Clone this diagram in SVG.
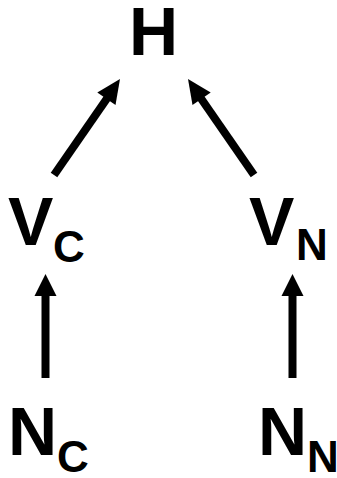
<svg xmlns="http://www.w3.org/2000/svg" width="337" height="478" viewBox="0 0 337 478">
<style>
text{font-family:"Liberation Sans",Arial,sans-serif;font-weight:bold;fill:#000}
.big{font-size:68px}
.sub{font-size:44px}
.shaft{stroke:#000;stroke-width:8;fill:none}
.head{fill:#000}
</style>
<rect width="337" height="478" fill="#fff"/>
<g id="connectors">
<line class="shaft" x1="54" y1="175" x2="108" y2="97"/>
<polygon class="head" points="120,79 115.5,105 97.3,92.6"/>
<line class="shaft" x1="254" y1="175" x2="200" y2="97"/>
<polygon class="head" points="188,79 192.5,105 210.7,92.6"/>
<line class="shaft" x1="45.5" y1="378" x2="45.5" y2="294"/>
<polygon class="head" points="45.5,274 56.5,296 34.5,296"/>
<line class="shaft" x1="292.5" y1="378" x2="292.5" y2="294"/>
<polygon class="head" points="292.5,274 303.5,296 281.5,296"/>
</g>
<g id="H"><text class="big" x="129" y="55">H</text></g>
<g id="VC"><text x="8" y="245"><tspan class="big">V</tspan><tspan class="sub" x="53" y="262">C</tspan></text></g>
<g id="VN"><text x="249" y="245"><tspan class="big">V</tspan><tspan class="sub" x="296" y="260">N</tspan></text></g>
<g id="NC"><text x="8" y="455"><tspan class="big">N</tspan><tspan class="sub" x="57" y="472">C</tspan></text></g>
<g id="NN"><text x="258" y="455"><tspan class="big">N</tspan><tspan class="sub" x="307" y="472">N</tspan></text></g>
</svg>
